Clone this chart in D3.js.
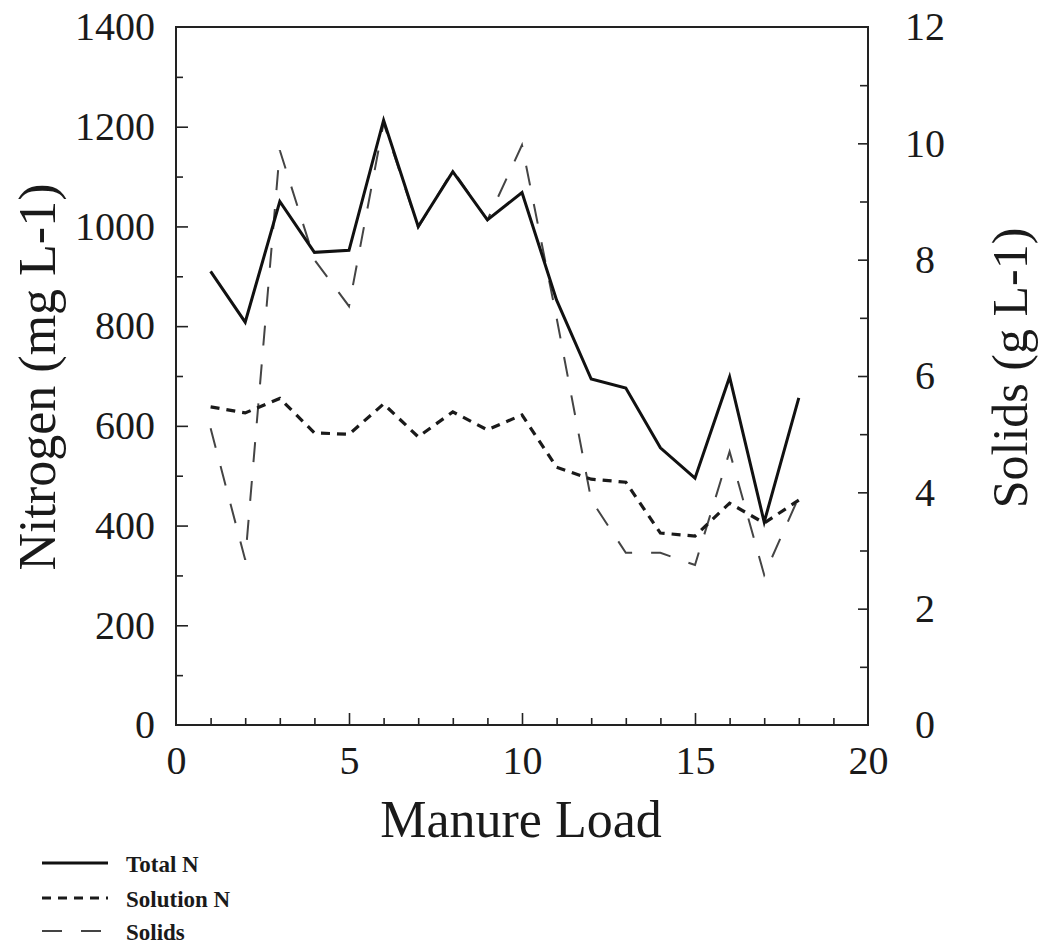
<!DOCTYPE html>
<html>
<head>
<meta charset="utf-8">
<script src="https://cdn.jsdelivr.net/npm/d3@7"></script>
<style>
  html, body { margin: 0; padding: 0; background: #fff; }
  svg text { font-family: "Liberation Serif", "DejaVu Serif", "Noto Serif", serif; fill: #1a1a1a; }
</style>
</head>
<body>
<svg id="chart" width="1045" height="944"></svg>
<script>
// ---- data ----
const loads = [1, 2, 3, 4, 5, 6, 7, 8, 9, 10, 11, 12, 13, 14, 15, 16, 17, 18];
const totalN = [910, 808, 1050, 948, 952, 1213, 1000, 1110, 1013, 1068, 852, 694, 676, 556, 495, 698, 407, 656];
const solutionN = [638, 626, 655, 586, 583, 644, 578, 628, 592, 622, 517, 493, 487, 385, 379, 445, 405, 451];
const solids = [5.1, 2.84, 9.88, 8.0, 7.2, 10.35, 8.55, 9.54, 8.68, 9.97, 7.0, 3.87, 2.96, 2.96, 2.75, 4.7, 2.58, 3.92];
const xTicks = [0, 5, 10, 15, 20];
const yLeftTicks = [0, 200, 400, 600, 800, 1000, 1200, 1400];
const yRightTicks = [0, 2, 4, 6, 8, 10, 12];
const seriesNames = ["Total N", "Solution N", "Solids"];
const xTitle = "Manure Load";
const yLeftTitle = "Nitrogen (mg L-1)";
const yRightTitle = "Solids (g L-1)";

// ---- layout ----
const L = 176, R = 868, T = 27, B = 725;
const FONT = "'Liberation Serif', 'DejaVu Serif', 'Noto Serif', serif";
const svg = d3.select("#chart");
const x = d3.scaleLinear().domain([0, 20]).range([L, R]);
const yL = d3.scaleLinear().domain([0, 1400]).range([B, T]);
const yR = d3.scaleLinear().domain([0, 12]).range([B, T]);

function styleAxis(g) {
  g.attr("font-family", FONT);
  g.select(".domain").remove();
  g.selectAll(".tick line").attr("stroke", "#222").attr("stroke-width", 1.6);
  g.selectAll("text").style("font-family", FONT).attr("fill", "#1a1a1a");
}

// minor ticks
svg.append("g").attr("transform", `translate(${L},0)`)
  .call(d3.axisLeft(yL).tickValues(d3.range(100, 1400, 200)).tickSize(-7).tickFormat(""))
  .call(styleAxis);
svg.append("g").attr("transform", `translate(0,${B})`)
  .call(d3.axisBottom(x).tickValues(d3.range(1, 20).filter(v => v % 5 !== 0)).tickSize(-7).tickFormat(""))
  .call(styleAxis);
svg.append("g").attr("transform", `translate(${R},0)`)
  .call(d3.axisRight(yR).tickValues(d3.range(1, 12, 2)).tickSize(-8).tickFormat(""))
  .call(styleAxis);

// major ticks + labels
const gl = svg.append("g").attr("transform", `translate(${L},0)`)
  .call(d3.axisLeft(yL).tickValues(yLeftTicks).tickSize(-12).tickPadding(21).tickFormat(d3.format("d")))
  .call(styleAxis);
gl.selectAll("text").attr("font-size", 40);
gl.selectAll(".tick").filter(d => d === 0 || d === 1400).select("line").remove();

const gb = svg.append("g").attr("transform", `translate(0,${B})`)
  .call(d3.axisBottom(x).tickValues(xTicks).tickSize(-12).tickPadding(21).tickFormat(d3.format("d")))
  .call(styleAxis);
gb.selectAll("text").attr("font-size", 40);
gb.selectAll(".tick").filter(d => d === 0 || d === 20).select("line").remove();

const gr = svg.append("g").attr("transform", `translate(${R},0)`)
  .call(d3.axisRight(yR).tickValues(yRightTicks).tickSize(-10).tickFormat(d3.format("d")))
  .call(styleAxis);
gr.selectAll("text").attr("font-size", 40).attr("x", 57).attr("text-anchor", "middle");
gr.selectAll(".tick").filter(d => d === 0 || d === 12).select("line").remove();

// frame
svg.append("rect").attr("x", L).attr("y", T).attr("width", R - L).attr("height", B - T)
  .attr("fill", "none").attr("stroke", "#222").attr("stroke-width", 2);

// series
const lineL = d3.line().x((d, i) => x(loads[i])).y(d => yL(d));
const lineR = d3.line().x((d, i) => x(loads[i])).y(d => yR(d));
const styles = [
  { stroke: "#111", width: 3, dash: null },
  { stroke: "#1a1a1a", width: 3.2, dash: "9,7" },
  { stroke: "#444", width: 2, dash: "20,19" }
];
svg.append("path").datum(solids).attr("d", lineR).attr("fill", "none")
  .attr("stroke", styles[2].stroke).attr("stroke-width", styles[2].width).attr("stroke-dasharray", styles[2].dash);
svg.append("path").datum(solutionN).attr("d", lineL).attr("fill", "none")
  .attr("stroke", styles[1].stroke).attr("stroke-width", styles[1].width).attr("stroke-dasharray", styles[1].dash);
svg.append("path").datum(totalN).attr("d", lineL).attr("fill", "none")
  .attr("stroke", styles[0].stroke).attr("stroke-width", styles[0].width).attr("stroke-linejoin", "miter");

// titles
svg.append("text").attr("x", 521).attr("y", 837).attr("text-anchor", "middle")
  .style("font-family", FONT).attr("font-size", 52).text(xTitle);
svg.append("text").attr("transform", "translate(55,377) rotate(-90)").attr("text-anchor", "middle")
  .style("font-family", FONT).attr("font-size", 52).text(yLeftTitle);
svg.append("text").attr("transform", "translate(1027,368) rotate(-90)").attr("text-anchor", "middle")
  .style("font-family", FONT).attr("font-size", 50).text(yRightTitle);

// legend
const legY = [863, 898, 931];
const leg = svg.append("g");
seriesNames.forEach((name, i) => {
  leg.append("line").attr("x1", 42).attr("x2", 108).attr("y1", legY[i]).attr("y2", legY[i])
    .attr("stroke", styles[i].stroke).attr("stroke-width", i === 2 ? 2 : 3)
    .attr("stroke-dasharray", styles[i].dash);
  leg.append("text").attr("x", 126).attr("y", legY[i] + 9).attr("font-size", 23)
    .style("font-family", FONT).attr("font-weight", "bold").text(name);
});
</script>
</body>
</html>
